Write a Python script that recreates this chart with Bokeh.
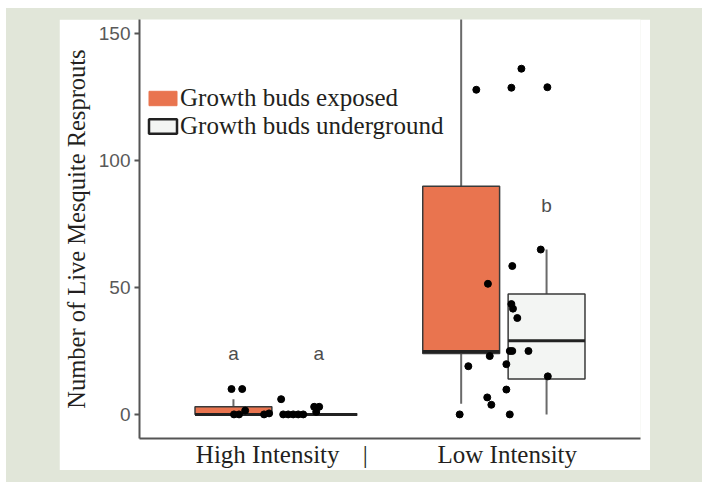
from bokeh.plotting import figure
from bokeh.models import Legend, LegendItem, FixedTicker, ColumnDataSource
from bokeh.layouts import column
from bokeh.embed import file_html
from bokeh.resources import INLINE
from bokeh.core.properties import value

# ---------------- data ----------------
groups = ["High Intensity", "Low Intensity"]
treatments = ["Growth buds exposed", "Growth buds underground"]

# box statistics: High-exposed, High-underground, Low-exposed, Low-underground
box_group = [1, 1, 2, 2]
box_treat = [0, 1, 0, 1]
whisk_lo = [0, 0, 4.2, 0]
q1 = [0, 0, 24, 14]
med = [0, 0, 24.8, 29]
q3 = [3, 0, 90, 47.5]
whisk_hi = [6, 0, 185, 65]

# jittered observations (x position on the category axis, count)
pt_x = [0.804, 0.851, 0.815, 0.837, 0.864, 0.947, 0.969,
        1.022, 1.031, 1.053, 1.075, 1.097, 1.119, 1.167, 1.189, 1.176,
        1.806, 1.844, 1.879, 1.930, 1.938, 1.927, 1.945, 2.011, 2.011,
        2.026, 2.026, 2.037, 2.033, 2.040, 2.059, 2.037, 2.033, 2.077,
        2.108, 2.162, 2.191, 2.193]
pt_y = [10, 10, 0, 0, 1.5, 0, 0.4,
        6, 0, 0, 0, 0, 0, 3, 3, 1,
        0, 19, 128, 51.5, 23, 6.7, 3.8, 19.8, 9.8,
        0, 25, 25, 43.5, 41.7, 38, 58.5, 128.8, 136.3,
        25, 65, 129, 15]

# significance letters
letter_group = [1, 1, 2]
letter_treat = [0, 1, 1]
letter_text = ["a", "a", "b"]
letter_y = [24.2, 24.2, 82.3]

y_ticks = [0, 50, 100, 150]
x_label_text = [groups[0], "|", groups[1]]

# ---------------- styling ----------------
ORANGE = "#e9744f"
LIGHT = "#f3f5f3"
OUTLINE = "#3a3a3a"
WHISK = "#6a6a6a"
SERIF = "Liberation Serif"
SANS = "Liberation Sans"
DODGE = 0.1875
BOX_W = 0.3375
NAN = float("nan")
X_LABEL_POS = [0.963, 1.391, 2.015]

def xpos(g, t):
    return g + (t - 0.5) * 2 * DODGE

bx = [xpos(g, t) for g, t in zip(box_group, box_treat)]
fills = [ORANGE if t == 0 else LIGHT for t in box_treat]

p = figure(width=591, height=451, x_range=(0.4, 2.6), y_range=(-9.5, 155.7),
           output_backend="svg", toolbar_location=None,
           min_border_left=78, min_border_right=10, min_border_top=0,
           min_border_bottom=32, background_fill_color="white",
           border_fill_color="white", outline_line_color=None)
p.margin = (11, 52, 12, 53)
p.xgrid.visible = False
p.ygrid.visible = False

src = ColumnDataSource(dict(x=bx, lo=whisk_lo, q1=q1, med=med, q3=q3, hi=whisk_hi,
                            fill=fills,
                            xl=[x - BOX_W / 2 for x in bx],
                            xr=[x + BOX_W / 2 for x in bx]))

# whiskers
p.segment(x0="x", x1="x", y0="q3", y1="hi", source=src, line_color=WHISK, line_width=2)
p.segment(x0="x", x1="x", y0="lo", y1="q1", source=src, line_color=WHISK, line_width=2)
# boxes
p.vbar(x="x", width=BOX_W, bottom="q1", top="q3", source=src,
       fill_color="fill", line_color=OUTLINE, line_width=1.5)
# medians
p.segment(x0="xl", x1="xr", y0="med", y1="med", source=src, line_color="#222222", line_width=3)

# points
p.scatter(pt_x, pt_y, size=7, color="black")

# letters
p.text(x=[xpos(g, t) for g, t in zip(letter_group, letter_treat)], y=letter_y,
       text=letter_text, text_align="center", text_baseline="alphabetic",
       text_font=value(SANS), text_font_size="19px", text_color="#4d4d4d")

# legend (legend-only renderers, nothing drawn in the plot)
r1 = p.vbar(x=[NAN], width=0.1, top=[NAN], fill_color=ORANGE, line_color=ORANGE)
r2 = p.vbar(x=[NAN], width=0.1, top=[NAN], fill_color=LIGHT, line_color="#222222", line_width=2.5)
legend = Legend(items=[LegendItem(label=treatments[0], renderers=[r1]),
                       LegendItem(label=treatments[1], renderers=[r2])],
                location=(6, 298), padding=0, margin=0, spacing=0,
                glyph_width=35, glyph_height=18, label_standoff=0,
                label_text_font=SERIF, label_text_font_size="25px",
                label_text_color="#231f20", background_fill_alpha=0,
                border_line_color=None)
p.add_layout(legend)

# axes
for ax in (p.xaxis[0], p.yaxis[0]):
    ax.axis_line_color = "#555555"
    ax.axis_line_width = 2
    ax.minor_tick_line_color = None
    ax.major_tick_in = 0

p.xaxis.ticker = FixedTicker(ticks=X_LABEL_POS)
p.xaxis.major_label_overrides = dict(zip(X_LABEL_POS, x_label_text))
p.xaxis.major_tick_out = 0
p.xaxis.major_label_standoff = 2
p.xaxis.major_label_text_font = SERIF
p.xaxis.major_label_text_font_size = "25px"
p.xaxis.major_label_text_color = "#231f20"

p.yaxis.ticker = FixedTicker(ticks=y_ticks)
p.yaxis.major_tick_out = 5
p.yaxis.major_tick_line_color = "#555555"
p.yaxis.major_tick_line_width = 2
p.yaxis.major_label_standoff = 4
p.yaxis.major_label_text_font = SANS
p.yaxis.major_label_text_font_size = "19px"
p.yaxis.major_label_text_color = "#595959"
p.yaxis.axis_label = "Number of Live Mesquite Resprouts"
p.yaxis.axis_label_text_font = SERIF
p.yaxis.axis_label_text_font_size = "24.5px"
p.yaxis.axis_label_text_font_style = "normal"
p.yaxis.axis_label_text_color = "#231f20"
p.yaxis.axis_label_standoff = 6

inner = column(p, styles={"background-color": "#e1e6d9"})
inner.margin = (8, 0, 0, 6)

open("out.html", "w").write(file_html(inner, INLINE))
